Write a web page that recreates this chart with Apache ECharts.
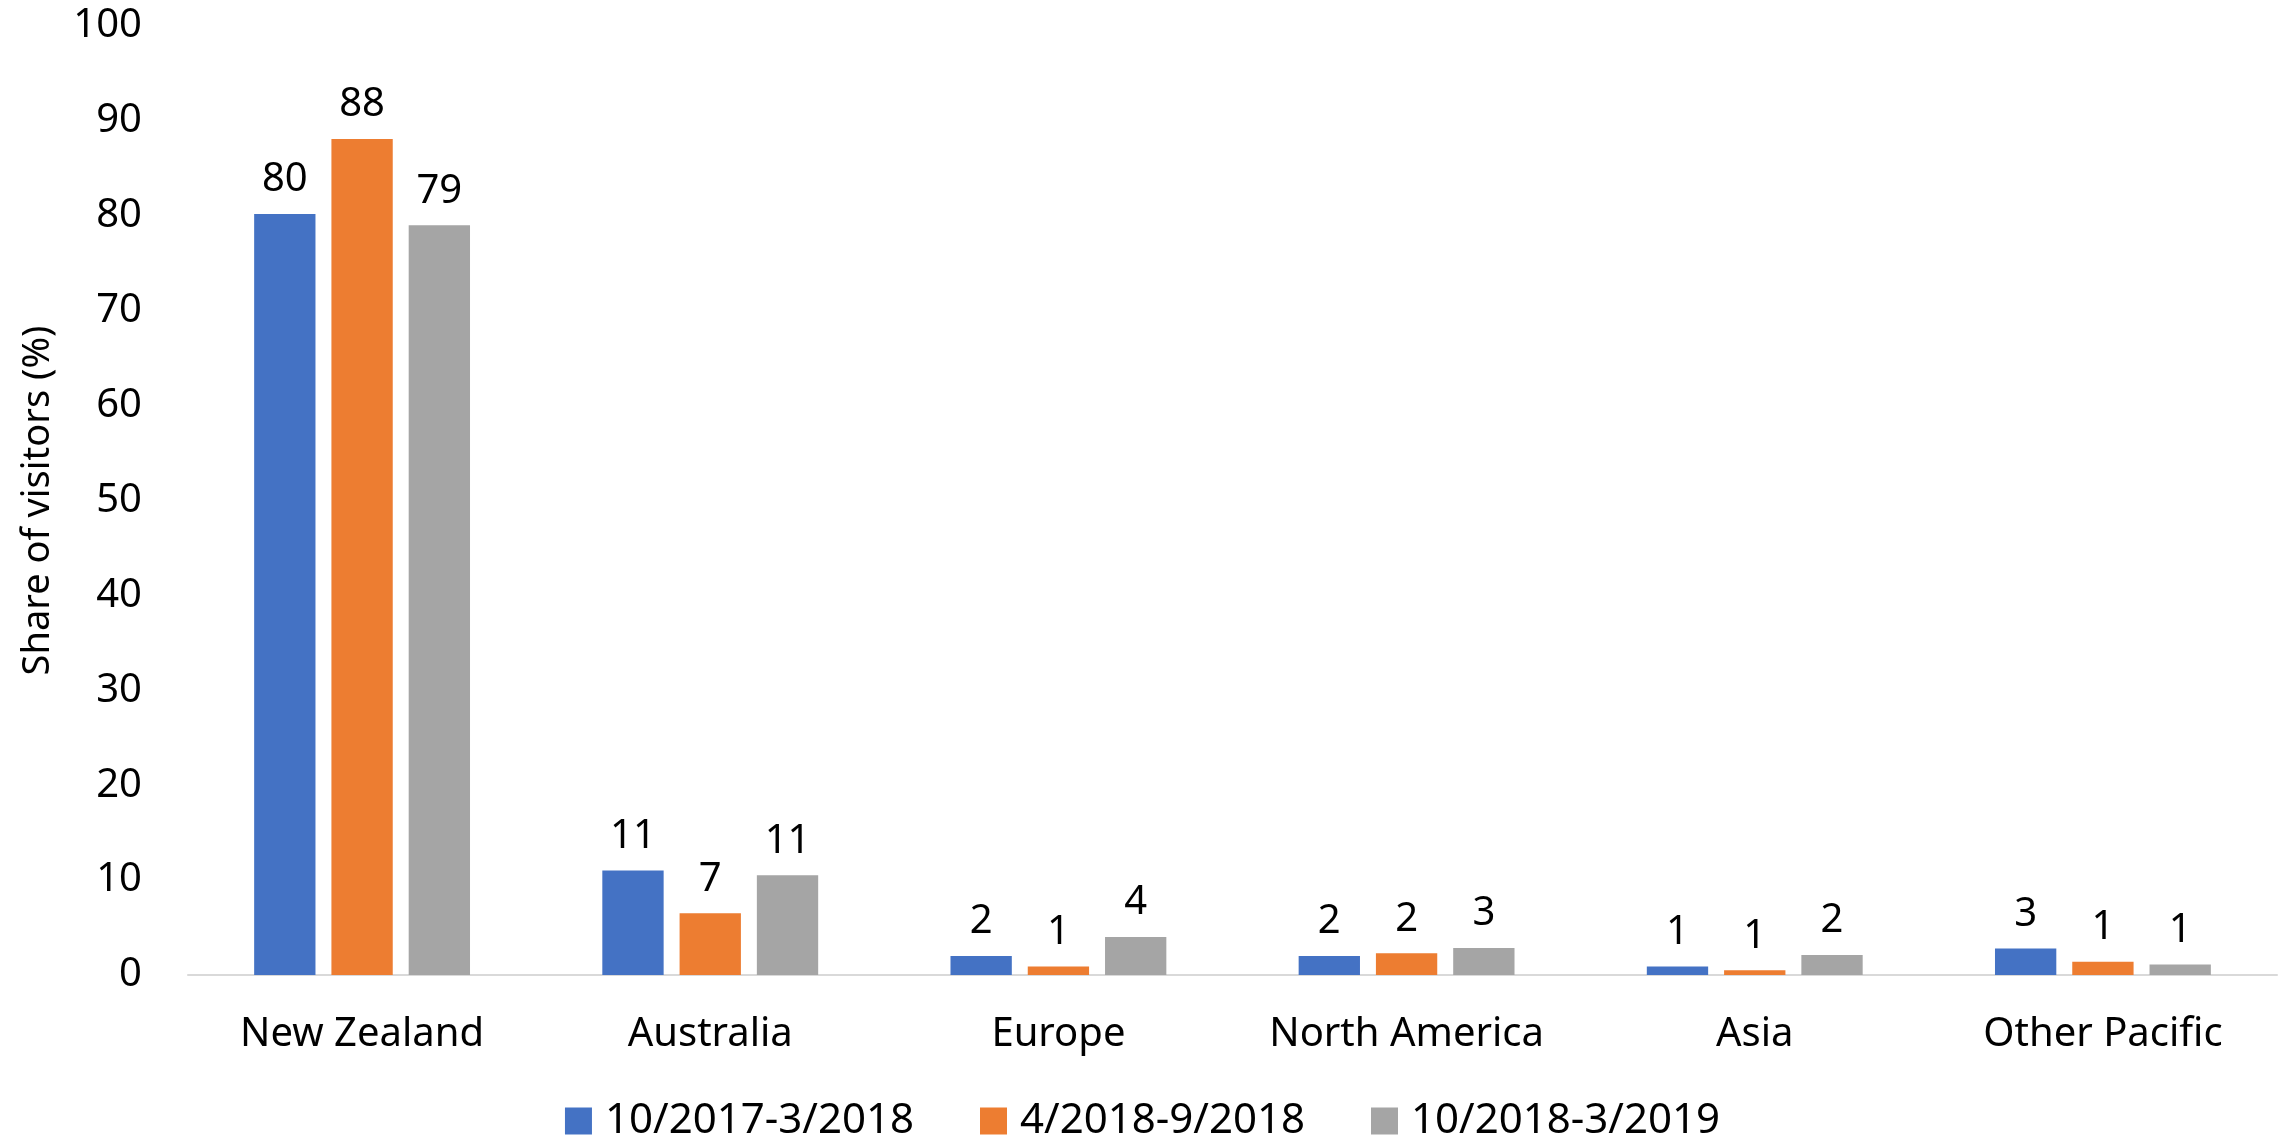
<!DOCTYPE html>
<html>
<head>
<meta charset="utf-8">
<script src="https://cdn.jsdelivr.net/npm/echarts@6/dist/echarts.min.js"></script>
<style>
  html, body { margin: 0; padding: 0; background: #fff; }
  #main { width: 2285px; height: 1142px; }
</style>
</head>
<body>
<div id="main"></div>
<script>
// visitor origin, share of visitors (%)
const regions = ['New Zealand', 'Australia', 'Europe', 'North America', 'Asia', 'Other Pacific']
const periods = ['10/2017-3/2018', '4/2018-9/2018', '10/2018-3/2019']
const share2017 = [80.2, 11.0, 2.0, 2.0, 0.9, 2.8]
const share2018a = [88.1, 6.5, 0.9, 2.3, 0.5, 1.4]
const share2018b = [79.0, 10.5, 4.0, 2.85, 2.1, 1.1]
const yTicks = { min: 0, max: 100, interval: 10 }
const colors = ['#4472C4', '#ED7D31', '#A5A5A5']

const font = 'Noto Sans'
const chart = echarts.init(document.getElementById('main'))

const makeSeries = (name, data, i) => ({
  name: name,
  type: 'bar',
  data: data,
  itemStyle: { color: colors[i] },
  barGap: '26%',
  barCategoryGap: '38%',
  label: {
    show: true,
    position: 'top',
    distance: 14,
    fontFamily: font,
    fontSize: 40,
    color: '#000',
    formatter: p => Math.round(p.value)
  }
})

chart.setOption({
  animation: false,
  textStyle: { fontFamily: font },
  grid: { left: 188, right: 8, top: 26, bottom: 167 },
  legend: {
    data: periods,
    left: 'center',
    top: 1095,
    icon: 'rect',
    itemWidth: 27,
    itemHeight: 27,
    itemGap: 66,
    textStyle: { fontFamily: font, fontSize: 42, color: '#000', padding: [0, 0, 0, 8] }
  },
  xAxis: {
    type: 'category',
    data: regions,
    axisTick: { show: false },
    axisLine: { lineStyle: { color: '#D9D9D9', width: 2 } },
    axisLabel: { interval: 0, margin: 40, fontFamily: font, fontSize: 40, color: '#000' }
  },
  yAxis: {
    type: 'value',
    min: yTicks.min,
    max: yTicks.max,
    interval: yTicks.interval,
    name: 'Share of visitors (%)',
    nameLocation: 'middle',
    nameGap: 131,
    nameTextStyle: { fontFamily: font, fontSize: 38, color: '#000' },
    axisLine: { show: false },
    axisTick: { show: false },
    splitLine: { show: false },
    axisLabel: { margin: 46, fontFamily: font, fontSize: 40, color: '#000' }
  },
  series: [
    makeSeries(periods[0], share2017, 0),
    makeSeries(periods[1], share2018a, 1),
    makeSeries(periods[2], share2018b, 2)
  ]
})
</script>
</body>
</html>
